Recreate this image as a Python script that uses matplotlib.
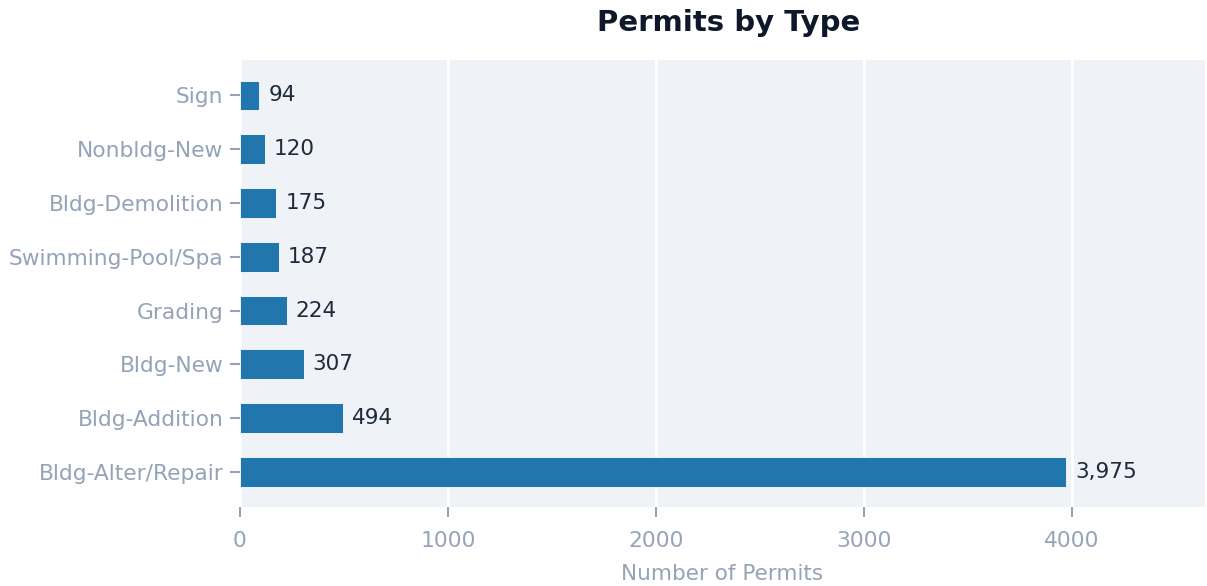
import matplotlib
matplotlib.use("Agg")
import matplotlib.pyplot as plt

# Data
permit_types = ["Bldg-Alter/Repair", "Bldg-Addition", "Bldg-New", "Grading",
                "Swimming-Pool/Spa", "Bldg-Demolition", "Nonbldg-New", "Sign"]
counts = [3975, 494, 307, 224, 187, 175, 120, 94]
x_ticks = [0, 1000, 2000, 3000, 4000]

tick_color = "#94a3b8"

fig, ax = plt.subplots(figsize=(12.07, 5.86), dpi=100)
fig.subplots_adjust(left=0.1988, right=0.998, top=0.897, bottom=0.135)

ax.set_facecolor("#eff2f7")
ax.grid(axis="x", color="white", linewidth=2)
ax.set_axisbelow(True)

bars = ax.barh(permit_types, counts, height=0.55, color="#2176ae", edgecolor="white", linewidth=0.6)
for b, v in zip(bars, counts):
    ax.text(b.get_width() + 43, b.get_y() + b.get_height() / 2, f"{v:,}",
            va="center", ha="left", fontsize=15.5, color="#1e293b")

ax.set_xlim(0, 4640)
ax.set_xticks(x_ticks)
for s in ax.spines.values():
    s.set_visible(False)
ax.tick_params(axis="both", colors=tick_color, labelsize=15.7, length=7, width=1.5)
ax.tick_params(axis="x", pad=10)
ax.tick_params(axis="y", pad=5)

ax.set_title("Permits by Type", fontsize=21, fontweight="bold", color="#0f172a", pad=21, x=0.507)
ax.set_xlabel("Number of Permits", fontsize=15.5, color=tick_color, labelpad=10)

plt.savefig("out.png", dpi=100)
